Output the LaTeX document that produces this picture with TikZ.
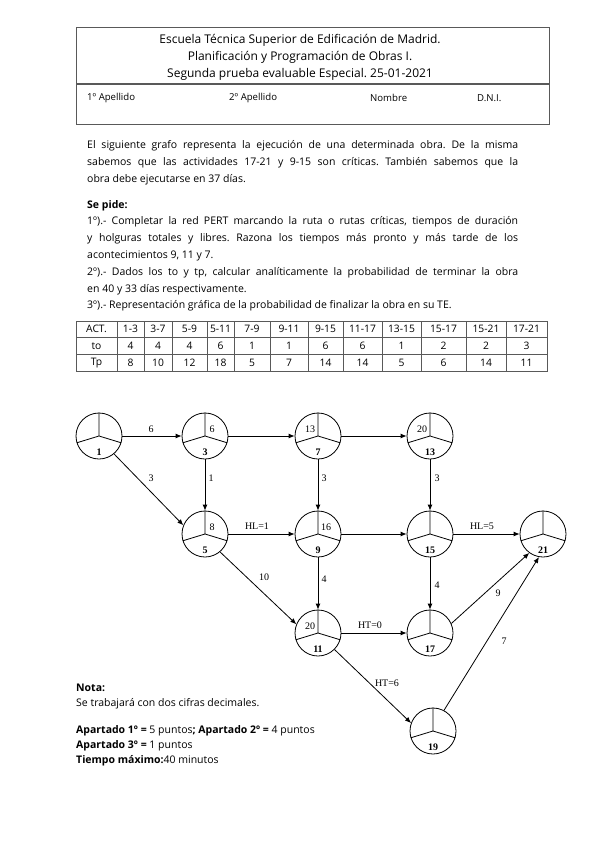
\documentclass[tikz,border=0pt]{standalone}
\usepackage{fontspec}
\setmainfont{Open Sans}
\newfontfamily\serifnum{Liberation Serif}
\usetikzlibrary{arrows.meta}
\frenchspacing
\begin{document}
\begin{tikzpicture}[x=1pt,y=-1pt,
  txt/.style={anchor=west,inner sep=0pt,font=\fontsize{10.5}{12}\selectfont},
  htxt/.style={inner sep=0pt,font=\fontsize{12}{14}\selectfont},
  ftxt/.style={anchor=west,inner sep=0pt,font=\fontsize{9.6}{11}\selectfont},
  ctxt/.style={inner sep=0pt,font=\fontsize{10.3}{12}\selectfont},
  pert/.style={circle,draw,line width=0.8pt,minimum size=46pt,inner sep=0pt},
  num/.style={inner sep=0pt,font=\serifnum\fontsize{10}{12}\selectfont},
  bnum/.style={inner sep=0pt,font=\serifnum\bfseries\fontsize{10}{12}\selectfont},
  arr/.style={line width=0.8pt,-{Latex[length=6pt,width=5pt]}},
  elab/.style={inner sep=0pt,font=\serifnum\fontsize{10}{12}\selectfont},
  frame/.style={draw=black!65,line width=0.8pt},
]
\useasboundingbox[fill=white] (0,0) rectangle (599,848);

% header box
\draw[frame] (76,27) rectangle (549,124);
\draw[frame,line width=1.3pt] (76,84) -- (549,84);
\node[htxt] (h1) at (300,40) {Escuela Técnica Superior de Edificación de Madrid.};
\node[htxt] (h2) at (300,57) {Planificación y Programación de Obras I.};
\node[htxt] (h3) at (300,74) {Segunda prueba evaluable Especial. 25-01-2021};
\node[ftxt] (f1) at (87,98) {1º Apellido};
\node[ftxt] (f2) at (229,98) {2º Apellido};
\node[ftxt] (f3) at (370,98) {Nombre};
\node[ftxt] (f4) at (477,98) {D.N.I.};

% body text
\node[txt] (p1) at (87,146) {\makebox[431pt][s]{El siguiente grafo representa la ejecución de una determinada obra. De la misma}};
\node[txt] (p2) at (87,163) {\makebox[431pt][s]{sabemos que las actividades 17-21 y 9-15 son críticas. También sabemos que la}};
\node[txt] (p3) at (87,180) {obra debe ejecutarse en 37 días.};
\node[txt] (s0) at (87,206) {\textbf{Se pide:}};
\node[txt] (s1) at (87,222) {\makebox[431pt][s]{1º).- Completar la red PERT marcando la ruta o rutas críticas, tiempos de duración}};
\node[txt] (s2) at (87,239) {\makebox[431pt][s]{y holguras totales y libres. Razona los tiempos más pronto y más tarde de los}};
\node[txt] (s3) at (87,256) {acontecimientos 9, 11 y 7.};
\node[txt] (s4) at (87,273) {\makebox[431pt][s]{2º).- Dados los to y tp, calcular analíticamente la probabilidad de terminar la obra}};
\node[txt] (s5) at (87,290) {en 40 y 33 días respectivamente.};
\node[txt] (s6) at (87,306) {3º).- Representación gráfica de la probabilidad de finalizar la obra en su TE.};

% table
\draw[frame] (76,321) rectangle (547,371);
\draw[frame] (76,337) -- (547,337) (76,354) -- (547,354);
\foreach \xb in {117,144,172,207,234,270,308,343,382,421,466,506}
  \draw[frame] (\xb,321) -- (\xb,371);
\foreach \i/\xc/\a/\t/\p in {0/96.5/ACT./to/Tp, 1/130.5/1-3/4/8, 2/158/3-7/4/10, 3/189.5/5-9/4/12,
  4/220.5/5-11/6/18, 5/252/7-9/1/5, 6/289/9-11/1/7, 7/325.5/9-15/6/14, 8/362.5/11-17/6/14,
  9/401.5/13-15/1/5, 10/443.5/15-17/2/6, 11/486/15-21/2/14, 12/526.5/17-21/3/11} {
  \node[ctxt] (ta\i) at (\xc,329) {\a};
  \node[ctxt] (tt\i) at (\xc,346) {\t};
  \node[ctxt] (tp\i) at (\xc,363) {\p};
}

% PERT nodes
\foreach \id/\x/\y in {1/99/436, 3/205/436, 7/318/436, 13/430/436, 5/205/534, 9/318/534,
  15/430/534, 21/543/534, 11/318/633, 17/430/633, 19/433/731} {
  \node[pert] (n\id) at (\x,\y) {};
  \draw[line width=0.8pt] (n\id.center) -- (n\id.90) (n\id.center) -- (n\id.197) (n\id.center) -- (n\id.343);
  \node[bnum] (b\id) at (\x,\y+16) {\id};
}
\node[num] (v3) at (212,429) {6};
\node[num] (v7) at (310,429) {13};
\node[num] (v13) at (422,429) {20};
\node[num] (v5) at (212,527) {8};
\node[num] (v9) at (326,527) {16};
\node[num] (v11) at (310,626) {20};

% connectors
\draw[arr] (n1) -- (n3);
\draw[arr] (n3) -- (n7);
\draw[arr] (n7) -- (n13);
\draw[arr] (n1.-50) -- (n5.158);
\draw[arr] (n3) -- (n5);
\draw[arr] (n5) -- (n9);
\draw[arr] (n7) -- (n9);
\draw[arr] (n13) -- (n15);
\draw[arr] (n9) -- (n15);
\draw[arr] (n15) -- (n21);
\draw[arr] (n5.-50) -- (n11.158);
\draw[arr] (n9) -- (n11);
\draw[arr] (n15) -- (n17);
\draw[arr] (n11) -- (n17);
\draw[arr] (n11.-45) -- (n19.160);
\draw[arr] (n17.24) -- (n21.234);
\draw[arr] (n19.62) -- (n21.260);

\node[elab] (e1) at (151,429) {6};
\node[elab] (e2) at (151,478) {3};
\node[elab] (e3) at (211,478) {1};
\node[elab] (e4) at (257,526) {HL=1};
\node[elab] (e5) at (324,478) {3};
\node[elab] (e6) at (437,478) {3};
\node[elab] (e7) at (482,526) {HL=5};
\node[elab] (e8) at (264,577) {10};
\node[elab] (e9) at (324,579) {4};
\node[elab] (e10) at (437,585) {4};
\node[elab] (e11) at (370,625) {HT=0};
\node[elab] (e12) at (387,683) {HT=6};
\node[elab] (e13) at (498,593) {9};
\node[elab] (e14) at (504,641) {7};

% notes
\node[txt] (n0) at (76,688) {\textbf{Nota:}};
\node[txt] (nt1) at (76,704) {Se trabajará con dos cifras decimales.};
\node[txt] (nt2) at (76,731) {\textbf{Apartado 1º =} 5 puntos\textbf{;} \textbf{Apartado 2º =} 4 puntos};
\node[txt] (nt3) at (76,746) {\textbf{Apartado 3º =} 1 puntos};
\node[txt] (nt4) at (76,761) {\textbf{Tiempo máximo:}40 minutos};
\end{tikzpicture}
\end{document}
